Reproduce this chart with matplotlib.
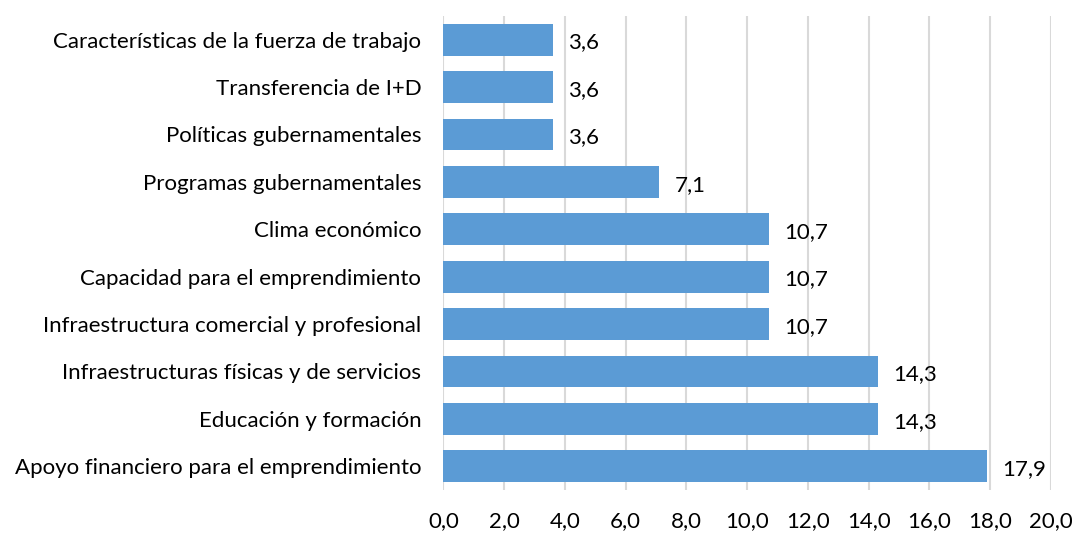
import matplotlib.pyplot as plt

plt.rcParams['font.family'] = ['Lato', 'DejaVu Sans']

categorias = [
    'Apoyo financiero para el emprendimiento',
    'Educación y formación',
    'Infraestructuras físicas y de servicios',
    'Infraestructura comercial y profesional',
    'Capacidad para el emprendimiento',
    'Clima económico',
    'Programas gubernamentales',
    'Políticas gubernamentales',
    'Transferencia de I+D',
    'Características de la fuerza de trabajo',
]
valores = [17.9, 14.3, 14.3, 10.7, 10.7, 10.7, 7.1, 3.6, 3.6, 3.6]
ticks = [0, 2, 4, 6, 8, 10, 12, 14, 16, 18, 20]

fig = plt.figure(figsize=(10.72, 5.33), dpi=100)
ax = fig.add_axes([0.4137, 0.0807, 0.5667, 0.8893])

pos = range(len(categorias))
ax.barh(pos, valores, height=0.67, color='#5B9BD5', zorder=2)

for p, v in zip(pos, valores):
    ax.annotate(f'{v:.1f}'.replace('.', ','), (v, p), xytext=(11, -2),
                textcoords='offset points', va='center', ha='left',
                fontsize=16, color='#000000')

ax.set_xlim(0, 20)
ax.set_ylim(-0.5, len(categorias) - 0.5)
ax.set_xticks(ticks)
ax.set_xticklabels([f'{t:.1f}'.replace('.', ',') for t in ticks], fontsize=16)
ax.set_yticks(list(pos))
ax.set_yticklabels(categorias, fontsize=16)
ax.tick_params(axis='both', length=0)
ax.tick_params(axis='x', pad=15)
ax.tick_params(axis='y', pad=16)

ax.grid(axis='x', color='#D9D9D9', linewidth=1.5, zorder=0)
for s in ax.spines.values():
    s.set_visible(False)

fig.savefig('out.png', dpi=100)
